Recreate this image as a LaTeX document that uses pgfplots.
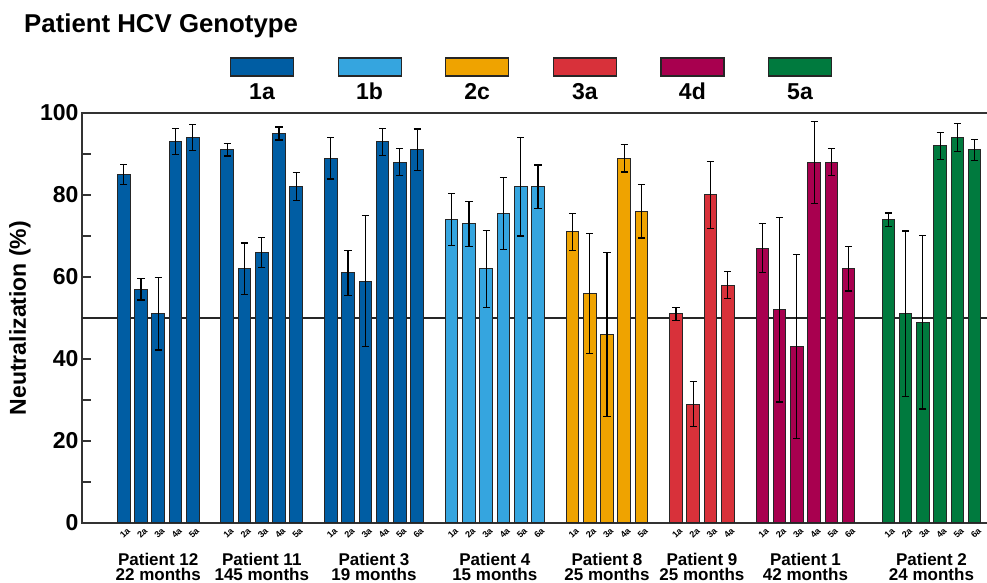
\documentclass[border=0pt]{standalone}
\usepackage{fontspec}
\setmainfont{Liberation Sans}
\usepackage{pgfplots}
\usepackage{pgfplotstable}
\pgfplotsset{compat=1.18}

\definecolor{c1a}{HTML}{005DA3}
\definecolor{c1b}{HTML}{35A5DF}
\definecolor{c2c}{HTML}{EFA300}
\definecolor{c3a}{HTML}{D8313A}
\definecolor{c4d}{HTML}{A8004F}
\definecolor{c5a}{HTML}{007A3E}

% x = slot position of the bar, y = neutralization (%), e = error
\pgfplotstableread{
x y e
0 85 2.5
1 57 2.6
2 51 8.8
3 93 3.2
4 94 3.2
}\ptTwelve
\pgfplotstableread{
x y e
6 91 1.5
7 62 6.3
8 66 3.7
9 95 1.6
10 82 3.4
}\ptEleven
\pgfplotstableread{
x y e
12 89 5.1
13 61 5.5
14 59 16
15 93 3.3
16 88 3.3
17 91 5.1
}\ptThree
\pgfplotstableread{
x y e
19 74 6.3
20 73 5.5
21 62 9.4
22 75.5 8.8
23 82 12
24 82 5.3
}\ptFour
\pgfplotstableread{
x y e
26 71 4.5
27 56 14.7
28 46 20
29 89 3.4
30 76 6.5
}\ptEight
\pgfplotstableread{
x y e
32 51 1.6
33 29 5.5
34 80 8.2
35 58 3.3
}\ptNine
\pgfplotstableread{
x y e
37 67 6
38 52 22.5
39 43 22.4
40 88 10
41 88 3.3
42 62 5.4
}\ptOne
\pgfplotstableread{
x y e
44.3 74 1.6
45.3 51 20.2
46.3 49 21.2
47.3 92 3.3
48.3 94 3.4
49.3 91 2.6
}\ptTwo

\begin{document}
\begin{tikzpicture}[x=1pt,y=1pt]
\begin{axis}[
    at={(82pt,60pt)}, anchor=south west,
    scale only axis,
    width=908pt, height=410pt,
    xmin=-2.416, xmax=50.19,
    ymin=0, ymax=100,
    clip=false,
    axis line style={draw=black!80, line width=1.5pt},
    ytick={0,10,...,100},
    yticklabels={0,,20,,40,,60,,80,,100},
    ytick pos=left,
    xtick pos=bottom,
    tick align=inside,
    ytick style={draw=black!80, line width=1.3pt},
    major tick length=9pt,
    xtick={0,1,2,3,4,6,7,8,9,10,12,13,14,15,16,17,19,20,21,22,23,24,26,27,28,29,30,32,33,34,35,37,38,39,40,41,42,44.3,45.3,46.3,47.3,48.3,49.3},
    xticklabels={1a,2a,3a,4a,5a,1a,2a,3a,4a,5a,1a,2a,3a,4a,5a,6a,1a,2a,3a,4a,5a,6a,1a,2a,3a,4a,5a,1a,2a,3a,4a,1a,2a,3a,4a,5a,6a,1a,2a,3a,4a,5a,6a},
    xtick style={draw=none},
    x tick label style={rotate=45, anchor=east, inner sep=0pt, xshift=-1pt, yshift=-8pt,
        font=\bfseries\fontsize{9}{9}\selectfont},
    y tick label style={font=\bfseries\fontsize{23}{23}\selectfont},
    ylabel={Neutralization (\%)},
    ylabel style={at={(rel axis cs:0,0.5)}, anchor=center, yshift=62pt,
        font=\bfseries\fontsize{23}{23}\selectfont},
    error bars/y dir=both,
    error bars/y explicit,
    error bars/error bar style={black, line width=1.2pt},
    error bars/error mark options={black, line width=1.2pt, mark size=3.6pt, rotate=90},
]
\addplot[black!85, line width=1.1pt] coordinates {(-2.416,50) (50.19,50)};

\addplot[ybar, bar width=0.735, bar shift=0pt, fill=c1a, draw=black!85, line width=1pt] table[x=x, y=y, y error=e] {\ptTwelve};
\addplot[ybar, bar width=0.735, bar shift=0pt, fill=c1a, draw=black!85, line width=1pt] table[x=x, y=y, y error=e] {\ptEleven};
\addplot[ybar, bar width=0.735, bar shift=0pt, fill=c1a, draw=black!85, line width=1pt] table[x=x, y=y, y error=e] {\ptThree};
\addplot[ybar, bar width=0.735, bar shift=0pt, fill=c1b, draw=black!85, line width=1pt] table[x=x, y=y, y error=e] {\ptFour};
\addplot[ybar, bar width=0.735, bar shift=0pt, fill=c2c, draw=black!85, line width=1pt] table[x=x, y=y, y error=e] {\ptEight};
\addplot[ybar, bar width=0.735, bar shift=0pt, fill=c3a, draw=black!85, line width=1pt] table[x=x, y=y, y error=e] {\ptNine};
\addplot[ybar, bar width=0.735, bar shift=0pt, fill=c4d, draw=black!85, line width=1pt] table[x=x, y=y, y error=e] {\ptOne};
\addplot[ybar, bar width=0.735, bar shift=0pt, fill=c5a, draw=black!85, line width=1pt] table[x=x, y=y, y error=e] {\ptTwo};

% group labels under the genotype tick labels
\begin{scope}[every node/.style={anchor=base, align=center, inner sep=0pt,
        font=\bfseries\fontsize{17}{15}\selectfont}]
\node at (axis cs:2,0)    [yshift=-57pt] {Patient 12\\22 months};
\node at (axis cs:8,0)    [yshift=-57pt] {Patient 11\\145 months};
\node at (axis cs:14.5,0) [yshift=-57pt] {Patient 3\\19 months};
\node at (axis cs:21.5,0) [yshift=-57pt] {Patient 4\\15 months};
\node at (axis cs:28,0)   [yshift=-57pt] {Patient 8\\25 months};
\node at (axis cs:33.5,0) [yshift=-57pt] {Patient 9\\25 months};
\node at (axis cs:39.5,0) [yshift=-57pt] {Patient 1\\42 months};
\node at (axis cs:46.8,0) [yshift=-57pt] {Patient 2\\24 months};
\end{scope}
\end{axis}

% title and genotype key
\node[anchor=base west, inner sep=0pt, font=\bfseries\fontsize{25.8}{30}\selectfont] at (24,550) {Patient HCV Genotype};
\foreach \c/\t [count=\i from 0] in {c1a/1a, c1b/1b, c2c/2c, c3a/3a, c4d/4d, c5a/5a} {
  \draw[fill=\c, draw=black!85, line width=1.2pt] (262+107.6*\i-31.5,507) rectangle ++(63,18);
  \node[anchor=base, inner sep=0pt, font=\bfseries\fontsize{23}{23}\selectfont] at (262+107.6*\i,483) {\t};
}

\pgfresetboundingbox
\path (0,0) rectangle (987,583);
\end{tikzpicture}
\end{document}
